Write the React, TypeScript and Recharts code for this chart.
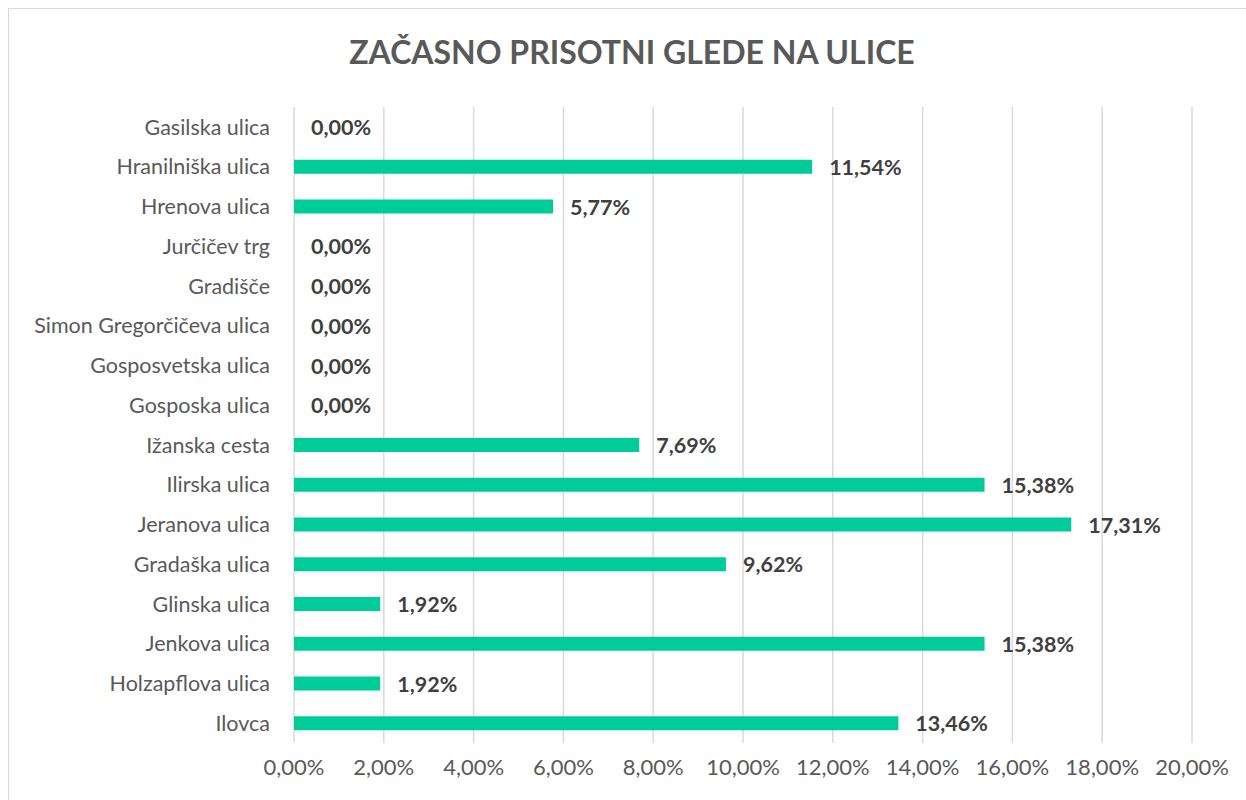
import { BarChart, Bar, XAxis, YAxis, CartesianGrid, LabelList } from 'recharts';

const streets = [
  'Gasilska ulica',
  'Hranilniška ulica',
  'Hrenova ulica',
  'Jurčičev trg',
  'Gradišče',
  'Simon Gregorčičeva ulica',
  'Gosposvetska ulica',
  'Gosposka ulica',
  'Ižanska cesta',
  'Ilirska ulica',
  'Jeranova ulica',
  'Gradaška ulica',
  'Glinska ulica',
  'Jenkova ulica',
  'Holzapflova ulica',
  'Ilovca',
];

const shares = [0, 11.54, 5.77, 0, 0, 0, 0, 0, 7.69, 15.38, 17.31, 9.62, 1.92, 15.38, 1.92, 13.46];

const xTicks = [0, 2, 4, 6, 8, 10, 12, 14, 16, 18, 20];

const pct = (v: number) => `${v.toFixed(2).replace('.', ',')}%`;

const data = streets.map((name, i) => ({ name, value: shares[i] }));

const FONT = 'Lato, "Open Sans", sans-serif';

// value label drawn to the right of the bar end (also for zero bars)
function ValueLabel(props: any) {
  const { x, y, width, height, value } = props;
  if (x == null || y == null) return null;
  const w = Number(value) === 0 ? 0 : Number(width || 0);
  return (
    <text
      x={Number(x) + w + 17}
      y={Number(y) + Number(height || 0) / 2}
      dominantBaseline="central"
      fontSize={21.5}
      fontWeight={700}
      fill="#404040"
      fontFamily={FONT}
    >
      {pct(Number(value))}
    </text>
  );
}

export default function App() {
  return (
    <div style={{ position: 'absolute', left: 0, top: 0, width: 1246, height: 800, background: '#fff', overflow: 'hidden', fontFamily: FONT }}>
      <div
        style={{
          position: 'absolute',
          left: 8,
          top: 8,
          width: 1260,
          height: 820,
          border: '1px solid #d9d9d9',
          boxSizing: 'border-box',
        }}
      />
      <div
        style={{
          position: 'absolute',
          left: 0,
          width: 1264,
          top: 30,
          textAlign: 'center',
          fontSize: 32,
          fontWeight: 700,
          color: '#595959',
          lineHeight: '44px',
        }}
      >
        ZAČASNO PRISOTNI GLEDE NA ULICE
      </div>
      <div style={{ position: 'absolute', left: 0, top: 0 }}>
        <BarChart
          width={1246}
          height={800}
          data={data}
          layout="vertical"
          margin={{ top: 107, right: 54, bottom: 17, left: 0 }}
          barSize={14}
        >
          <CartesianGrid horizontal={false} stroke="#d9d9d9" strokeWidth={1.5} />
          <XAxis
            type="number"
            domain={[0, 20]}
            ticks={xTicks}
            tickFormatter={pct}
            axisLine={false}
            tickLine={false}
            height={40}
            tick={{ fontSize: 22, fill: '#595959', fontFamily: FONT }}
            tickMargin={10}
            interval={0}
          />
          <YAxis
            type="category"
            dataKey="name"
            width={294}
            axisLine={false}
            tickLine={false}
            tickMargin={18}
            interval={0}
            tick={{ fontSize: 21.5, fill: '#595959', fontFamily: FONT }}
          />
          <Bar
            dataKey="value"
            fill="#00cc99"
            isAnimationActive={false}
            minPointSize={(v: any) => (Number(v) === 0 ? 0.01 : 0)}
          >
            <LabelList dataKey="value" content={ValueLabel} />
          </Bar>
        </BarChart>
      </div>
    </div>
  );
}
